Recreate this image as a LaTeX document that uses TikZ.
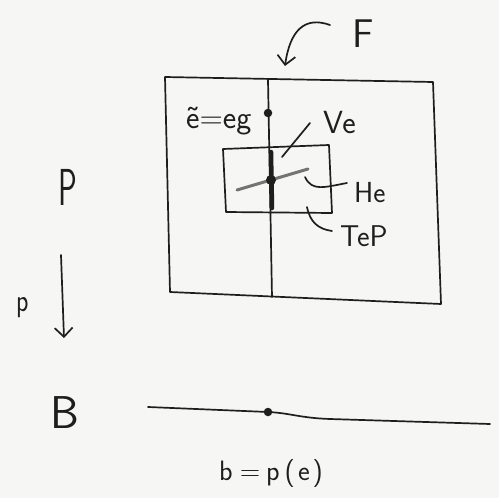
\documentclass[tikz,border=0pt]{standalone}
\usepackage{graphicx}
\usetikzlibrary{arrows.meta}
\definecolor{ink}{HTML}{1E1E1E}
\definecolor{paper}{HTML}{F6F6F4}
\begin{document}
\begin{tikzpicture}[x=1pt,y=-1pt,
  pen/.style={line width=1.7pt, line cap=round, line join=round, draw=ink},
  dotmark/.style={circle, fill=ink, inner sep=0pt, minimum size=8.5pt},
  lbl/.style={inner sep=0pt, text=ink, anchor=base west, font=\sffamily\fontsize{#1}{#1}\selectfont},
  barb/.style={-{Straight Barb[length=9pt,width=18pt,line width=1.7pt]}}
]
\useasboundingbox (0,0) rectangle (499,498);
\fill[paper] (0,0) rectangle (499,498);

% total space box
\coordinate (E1) at (165,77);
\coordinate (E2) at (433,82);
\coordinate (E3) at (441,304);
\coordinate (E4) at (170,292);
\draw[pen] (E1) -- (E2) -- (E3) -- (E4) -- cycle;

% fibre
\coordinate (Ft) at (268,80);
\coordinate (Fb) at (272,297);
\draw[pen] (Ft) -- (Fb);

% e tilde
\node[dotmark] (et) at (268,113) {};
\node[lbl=32] (etl) at (186,128) {\~{e}=eg};

% tangent space box
\coordinate (T1) at (223,149);
\coordinate (T2) at (329,145);
\coordinate (T3) at (332,213);
\coordinate (T4) at (226,212);
\draw[pen] (T1) -- (T2) -- (T3) -- (T4) -- cycle;

% vertical space (thick) and horizontal space (gray)
\coordinate (V1) at (271,152);
\coordinate (V2) at (272,208);
\draw[line width=4.5pt, line cap=round, draw=ink] (V1) -- (V2);
\coordinate (H1) at (237,190);
\coordinate (H2) at (308,169);
\draw[line width=3pt, line cap=round, draw=black!55] (H1) -- (H2);
\node[dotmark, minimum size=10pt] (e) at (271,180) {};

% labels with leaders
\node[lbl=32] (Ve) at (323,133) {Ve};
\coordinate (Vl1) at (310,123);
\coordinate (Vl2) at (282,157);
\draw[pen] (Vl1) -- (Vl2);

\node[lbl=29] (He) at (354,202) {He};
\coordinate (Hl1) at (305,177);
\coordinate (Hl2) at (347,183);
\draw[pen] (Hl1) .. controls (312,192) and (325,187) .. (Hl2);

\node[lbl=30] (TeP) at (340,246) {TeP};
\coordinate (Tl1) at (307,207);
\coordinate (Tl2) at (332,231);
\draw[pen] (Tl1) .. controls (310,222) and (318,229) .. (Tl2);

% F with curved arrow
\node[lbl=40] (F) at (352,47) {F};
\coordinate (Fa1) at (330,25);
\coordinate (Fa2) at (285,66);
\draw[pen, barb] (Fa1) .. controls (305,16) and (290,30) .. (Fa2);

% projection
\node[lbl=52] (P) at (58,205) {\scalebox{0.6}[1]{P}};
\coordinate (A1) at (61,255);
\coordinate (A2) at (64,338);
\draw[pen, barb] (A1) -- (A2);
\node[lbl=32] (pl) at (16,311) {\scalebox{0.8}[1]{p}};

% base
\node[lbl=46] (B) at (50,428) {B};
\coordinate (B1) at (148,407);
\coordinate (B2) at (490,424);
\node[dotmark] (b) at (268,412) {};
\draw[pen] (B1) -- (b.center) .. controls (290,413) and (300,418) .. (330,419) -- (B2);
\node[lbl=28] (bl) at (219,480) {b\hspace{7pt}=\hspace{6pt}p\hspace{5pt}(\hspace{3pt}e\hspace{3pt})};
\end{tikzpicture}
\end{document}
